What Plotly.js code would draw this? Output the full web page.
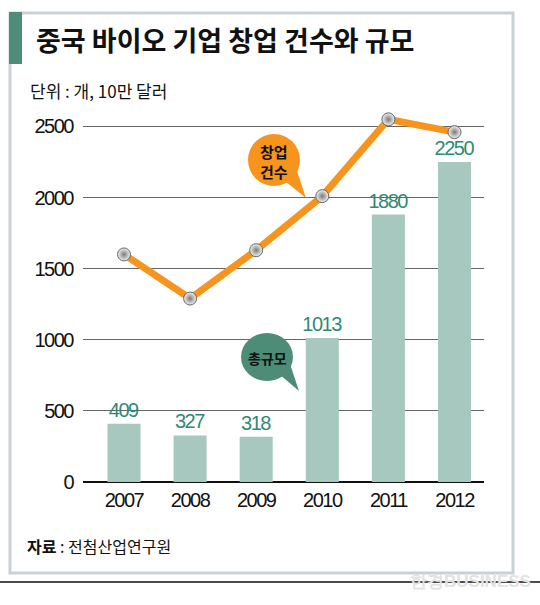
<!DOCTYPE html>
<html><head><meta charset="utf-8">
<script src="https://cdn.plot.ly/plotly-3.0.1.min.js"></script>
<style>html,body{margin:0;padding:0;background:#fff;}#chart{width:540px;height:605px;}
.xtick text, .ytick text, text.bartext { letter-spacing: -1.5px; }
</style>
</head><body><div id="chart"></div>
<script>
const years = ['2007','2008','2009','2010','2011','2012'];
const totalSize = [409, 327, 318, 1013, 1880, 2250];      // 총규모 (10만 달러)
const startups  = [1600, 1290, 1630, 2010, 2550, 2460];   // 창업 건수 (개)
const yTicks = [0, 500, 1000, 1500, 2000, 2500];

const W = 540, H = 605;
const PL = 83, PR = 484, PT = 98, PB = 482;
const px = x => (x - PL) / (PR - PL);
const py = y => (PB - y) / (PB - PT);

const numFont = "'Liberation Sans', Arial, sans-serif";
const krFont = "'Noto Sans CJK KR', 'Noto Sans', sans-serif";

const bars = {
  type: 'bar', x: years, y: totalSize, width: 0.5,
  marker: {color: '#a6c8bf'},
  text: totalSize.map(String), textposition: 'outside', constraintext: 'none',
  textfont: {family: numFont, size: 20, color: '#2f8a73'},
  cliponaxis: false, hoverinfo: 'skip'
};
const line = {
  type: 'scatter', mode: 'lines+markers', x: years, y: startups,
  line: {color: '#f7941d', width: 7},
  marker: {size: 13, color: '#f2f2f2', gradient: {type: 'radial', color: '#7a7a7a'}, line: {color: '#666', width: 1}},
  cliponaxis: false, hoverinfo: 'skip'
};

function circ(cx, cy, rx, ry, color) {
  return {type: 'circle', xref: 'paper', yref: 'paper', x0: px(cx - rx), x1: px(cx + rx), y0: py(cy + ry), y1: py(cy - ry),
    fillcolor: color, line: {width: 0}, layer: 'above'};
}
function poly(pts, color) {
  return {type: 'path', xref: 'paper', yref: 'paper',
    path: 'M ' + pts.map(p => px(p[0]) + ',' + py(p[1])).join(' L ') + ' Z',
    fillcolor: color, line: {width: 0}, layer: 'above'};
}

const shapes = [
  {type: 'rect', xref: 'paper', yref: 'paper', x0: px(10), x1: px(513), y0: py(573), y1: py(13),
    line: {color: '#c9d1d5', width: 3}, fillcolor: 'rgba(0,0,0,0)', layer: 'below'},
  {type: 'rect', xref: 'paper', yref: 'paper', x0: px(9), x1: px(22), y0: py(64), y1: py(12),
    line: {width: 0}, fillcolor: '#4d8c77', layer: 'above'},
  {type: 'line', xref: 'paper', yref: 'paper', x0: px(0), x1: px(540), y0: py(582), y1: py(582),
    line: {color: '#111', width: 1.5}},
  poly([[285, 181], [306, 198], [297, 171]], '#f7941d'),
  circ(274, 160, 26, 26, '#f7941d'),
  poly([[279, 374], [299, 391], [290, 364]], '#4d8c77'),
  circ(267, 357, 26, 24, '#4d8c77')
];

const annotations = [
  {text: '단위 : 개, 10만 달러', xref: 'paper', yref: 'paper', x: px(28), y: py(90), xanchor: 'left', yanchor: 'middle',
    showarrow: false, font: {family: krFont, size: 17, color: '#111'}},
  {text: '<b>자료</b> : 전첨산업연구원', xref: 'paper', yref: 'paper', x: px(25), y: py(546), xanchor: 'left', yanchor: 'middle',
    showarrow: false, font: {family: krFont, size: 16, color: '#111'}},
  {text: '<b>창업<br>건수</b>', xref: 'paper', yref: 'paper', x: px(274), y: py(161), xanchor: 'center', yanchor: 'middle',
    showarrow: false, align: 'center', font: {family: krFont, size: 15, color: '#111'}},
  {text: '<b>총규모</b>', xref: 'paper', yref: 'paper', x: px(267), y: py(358), xanchor: 'center', yanchor: 'middle',
    showarrow: false, font: {family: krFont, size: 14, color: '#111'}},
  {text: '<b>한경BUSINESS</b>', xref: 'paper', yref: 'paper', x: px(470), y: py(581), xanchor: 'center', yanchor: 'middle',
    showarrow: false, font: {family: numFont, size: 17, color: '#e2e2e2'}}
];

const layout = {
  width: W, height: H,
  margin: {l: PL, r: W - PR, t: PT, b: H - PB, pad: 0},
  paper_bgcolor: '#fff', plot_bgcolor: 'rgba(0,0,0,0)',
  showlegend: false,
  title: {text: '<b>중국 바이오 기업 창업 건수와 규모</b>', xref: 'container', yref: 'container',
    x: 36 / W, xanchor: 'left', y: 1 - 42 / H, yanchor: 'middle',
    font: {family: krFont, size: 27, color: '#111'}},
  xaxis: {type: 'category', range: [-0.62, 5.446], showgrid: false, zeroline: false, showline: false,
    ticks: '', tickfont: {family: numFont, size: 20, color: '#111'}, ticklabelstandoff: 4, fixedrange: true},
  yaxis: {range: [0, 2700], tickvals: yTicks, ticktext: yTicks.map(String), showgrid: true, gridcolor: '#666', gridwidth: 1,
    zeroline: true, zerolinecolor: '#111', zerolinewidth: 1.5, showline: false, ticks: '',
    tickfont: {family: numFont, size: 20, color: '#111'}, ticklabelstandoff: 9, fixedrange: true},
  bargap: 0.5,
  shapes: shapes, annotations: annotations
};

Plotly.newPlot('chart', [bars, line], layout, {displayModeBar: false, staticPlot: true});
</script></body></html>
